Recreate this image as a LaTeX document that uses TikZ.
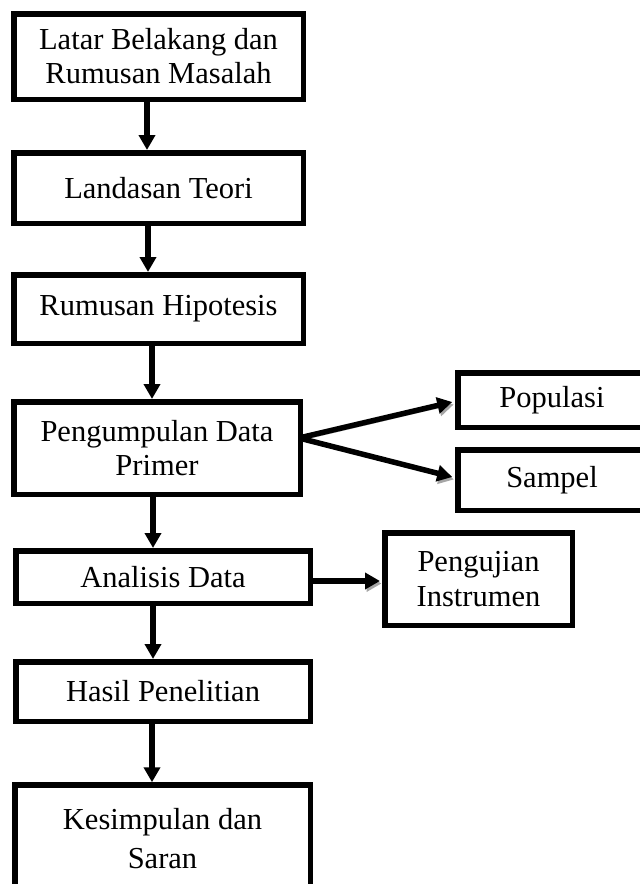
\documentclass[tikz,border=0pt]{standalone}
\usepackage{fontspec}
\setmainfont{Liberation Serif}
\usetikzlibrary{arrows.meta,calc}
\begin{document}
\begin{tikzpicture}[x=1pt,y=-1pt,
  box/.style={draw=black,line width=5.5pt,fill=white,inner sep=0pt,align=center,
    font=\fontsize{30.5}{34}\selectfont},
  arr/.style={line width=5.5pt,-{Triangle[length=15pt,width=16pt]}},
  sh/.style={arr,preaction={draw=gray!70,transform canvas={shift={(1.5pt,-2.5pt)}}}}]
\useasboundingbox (0,0) rectangle (640,884);
\node[box,minimum width=289.5pt,minimum height=85.5pt] (b1) at (158.5,56.5) {Latar Belakang dan\\Rumusan Masalah};
\node[box,minimum width=289.5pt,minimum height=70.5pt] (b2) at (158.5,188) {Landasan Teori};
\node[box,minimum width=289.5pt,minimum height=68.5pt] (b3) at (158.5,309) {Rumusan Hipotesis};
\node[box,minimum width=286.5pt,minimum height=92.5pt] (b4) at (157,448) {Pengumpulan Data\\Primer};
\node[box,minimum width=294.5pt,minimum height=52.5pt] (b5) at (163,577) {Analisis Data};
\node[box,minimum width=294.5pt,minimum height=59.5pt] (b6) at (163,691.5) {Hasil Penelitian};
\node[box,minimum width=295.5pt,minimum height=107pt,font=\fontsize{30.5}{39}\selectfont] (b7) at (162.5,838.5) {Kesimpulan dan\\Saran};
\node[box,minimum width=188pt,minimum height=54.5pt] (pop) at (552,400) {Populasi};
\node[box,minimum width=188pt,minimum height=60.5pt] (sam) at (552,480) {Sampel};
\node[box,minimum width=187.5pt,minimum height=92.5pt,font=\fontsize{30.5}{35}\selectfont] (pu) at (478.5,579) {Pengujian\\Instrumen};
\coordinate (x1) at (147,0);
\coordinate (x2) at (148,0);
\coordinate (x3) at (152,0);
\coordinate (x4) at (153,0);
\coordinate (x5) at (153,0);
\coordinate (x6) at (152,0);
\coordinate (s4) at (299,438);
\draw[arr] (b1.south -| x1) -- (b2.north -| x1);
\draw[arr] (b2.south -| x2) -- (b3.north -| x2);
\draw[arr] (b3.south -| x3) -- (b4.north -| x3);
\draw[arr] (b4.south -| x4) -- (b5.north -| x4);
\draw[arr] (b5.south -| x5) -- (b6.north -| x5);
\draw[arr] (b6.south -| x6) -- (b7.north -| x6);
\draw[sh] (s4) -- ($(pop.west)+(-3,2)$);
\draw[sh] (s4) -- ($(sam.west)+(-3,-3)$);
\draw[sh] ($(b5.east)+(0,4)$) -- ($(b5.east -| pu.west)+(-2,4)$);
\end{tikzpicture}
\end{document}
